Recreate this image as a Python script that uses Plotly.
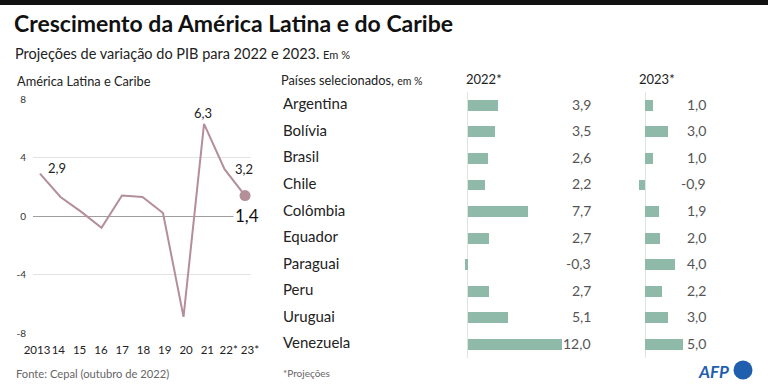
import plotly.graph_objects as go

W, H = 768, 387
TOP = 5            # black band height drawn as page border above the figure
FH = H - TOP       # figure height
FONT = "Lato"

# ---------------- data ----------------
years = [2013, 2014, 2015, 2016, 2017, 2018, 2019, 2020, 2021, 2022, 2023]
year_labels = ["2013", "14", "15", "16", "17", "18", "19", "20", "21", "22*", "23*"]
latam_gdp = [2.9, 1.3, 0.3, -0.8, 1.4, 1.3, 0.2, -6.9, 6.3, 3.2, 1.4]
labelled_years = [2013, 2021, 2022, 2023]

countries = ["Argentina", "Bolívia", "Brasil", "Chile", "Colômbia",
             "Equador", "Paraguai", "Peru", "Uruguai", "Venezuela"]
gdp_2022 = [3.9, 3.5, 2.6, 2.2, 7.7, 2.7, -0.3, 2.7, 5.1, 12.0]
gdp_2023 = [1.0, 3.0, 1.0, -0.9, 1.9, 2.0, 4.0, 2.2, 3.0, 5.0]

LINE_C = "#b48e98"
BAR_C = "#8fb9a8"
AFP_C = "#1f5fad"


def px(x):
    return x / W


def py(y):
    # y given in page pixels (0 = top of window)
    return 1 - (y - TOP) / FH


def fmt(v):
    return f"{v:.1f}".replace(".", ",")


def text(t, x, y, size, color="#222", xanchor="left", **kw):
    return dict(text=t, x=px(x), y=py(y), xref="paper", yref="paper", xanchor=xanchor,
                yanchor="middle", showarrow=False, font=dict(family=FONT, size=size, color=color), **kw)


fig = go.Figure()

# ---------------- left line chart ----------------
fig.add_trace(go.Scatter(
    x=years, y=latam_gdp, mode="lines", line=dict(color=LINE_C, width=2),
    xaxis="x", yaxis="y", hoverinfo="skip", showlegend=False))
fig.add_trace(go.Scatter(
    x=[years[-1]], y=[latam_gdp[-1]], mode="markers",
    marker=dict(color=LINE_C, size=11), xaxis="x", yaxis="y",
    hoverinfo="skip", showlegend=False))
# invisible trace carrying the year-label axis
fig.add_trace(go.Scatter(
    x=years, y=latam_gdp, mode="lines", line=dict(color="rgba(0,0,0,0)", width=0),
    xaxis="x4", yaxis="y", hoverinfo="skip", showlegend=False))

# ---------------- bar charts ----------------
fig.add_trace(go.Bar(
    y=countries, x=gdp_2022, orientation="h", marker=dict(color=BAR_C, line=dict(width=0)),
    width=0.41, xaxis="x2", yaxis="y2", hoverinfo="skip", showlegend=False))
fig.add_trace(go.Bar(
    y=countries, x=gdp_2023, orientation="h", marker=dict(color=BAR_C, line=dict(width=0)),
    width=0.41, xaxis="x3", yaxis="y2", hoverinfo="skip", showlegend=False))

ann = []

# header texts
ann.append(text("<b>Crescimento da América Latina e do Caribe</b>", 12, 23, 23, "#111"))
ann.append(text("Projeções de variação do PIB para 2022 e 2023. <span style='font-size:11px'>Em %</span>",
                13, 53, 14.5))
ann.append(text("América Latina e Caribe", 15, 81, 12.8))
ann.append(text("Países selecionados, <span style='font-size:10.5px'>em %</span>", 279, 80, 12.8))
ann.append(text("2022*", 484, 79, 13, xanchor="center"))
ann.append(text("2023*", 657, 79, 13, xanchor="center"))

# line chart value labels
label_style = {
    2013: dict(xanchor="left", xshift=6, yshift=6, size=13),
    2021: dict(xanchor="center", xshift=-1, yshift=11, size=13),
    2022: dict(xanchor="center", xshift=19, yshift=0, size=13),
    2023: dict(xanchor="center", xshift=2, yshift=-20, size=17),
}
for yr in labelled_years:
    v = latam_gdp[years.index(yr)]
    s = label_style[yr]
    extra = dict(bgcolor="white", borderpad=1) if yr == 2023 else {}
    ann.append(dict(text=fmt(v), x=yr, y=v, xref="x", yref="y", xanchor=s["xanchor"], yanchor="middle",
                    xshift=s["xshift"], yshift=s["yshift"], showarrow=False,
                    font=dict(family=FONT, size=s["size"], color="#222" if yr != 2023 else "#111"), **extra))

# country names and values
for c, v22, v23 in zip(countries, gdp_2022, gdp_2023):
    ann.append(dict(text=c, x=px(281), y=c, xref="paper", yref="y2", xanchor="left", yanchor="middle",
                    yshift=2, showarrow=False, font=dict(family=FONT, size=15, color="#222")))
    ann.append(dict(text=fmt(v22), x=px(593), y=c, xref="paper", yref="y2", xanchor="right",
                    yanchor="middle", yshift=1, showarrow=False,
                    font=dict(family=FONT, size=14, color="#555")))
    ann.append(dict(text=fmt(v23), x=px(708), y=c, xref="paper", yref="y2", xanchor="right",
                    yanchor="middle", yshift=1, showarrow=False,
                    font=dict(family=FONT, size=14, color="#555")))

# footers
ann.append(text("Fonte: Cepal (outubro de 2022)", 14, 373, 11.2, "#666"))
ann.append(text("*Projeções", 281, 373, 10, "#666"))
ann.append(text("<b><i>AFP</i></b>", 731, 371, 17, AFP_C, xanchor="right"))

shapes = [
    dict(type="circle", xref="paper", yref="paper", x0=px(733.5), x1=px(752.5), y0=py(379.5), y1=py(360.5),
         fillcolor=AFP_C, line=dict(width=0)),
]

fig.update_layout(
    width=W, height=FH, margin=dict(l=0, r=0, t=0, b=0, autoexpand=False),
    paper_bgcolor="white", plot_bgcolor="white",
    font=dict(family=FONT, color="#222"),
    annotations=ann, shapes=shapes, bargap=0, showlegend=False,
    xaxis=dict(domain=[px(33), px(251)], range=[2012.66, 2023.29], anchor="y", automargin=False,
               showticklabels=False, ticks="", showgrid=False, zeroline=False, showline=False),
    xaxis4=dict(overlaying="x", domain=[px(33), px(251)], range=[2012.81, 2023.05], anchor="y",
                automargin=False, side="bottom",
                tickmode="array", tickvals=years, ticktext=year_labels, tickangle=0,
                ticks="outside", ticklen=6, tickcolor="rgba(0,0,0,0)",
                tickfont=dict(family=FONT, size=11.5, color="#222"),
                showgrid=False, zeroline=False, showline=False),
    yaxis=dict(domain=[py(333), py(99)], range=[-8, 8], anchor="x", automargin=False,
               tickmode="array", tickvals=[-8, -4, 0, 4, 8], ticktext=["-8", "-4", "0", "4", "8"],
               ticks="outside", ticklen=4, tickcolor="rgba(0,0,0,0)",
               tickfont=dict(family=FONT, size=10, color="#333"),
               showgrid=True, gridcolor="#e3e3e3", gridwidth=1,
               zeroline=True, zerolinecolor="#9e9e9e", zerolinewidth=1, showline=False),
    xaxis2=dict(domain=[px(455), px(575)], range=[(455 - 467.7) / 7.85, (575 - 467.7) / 7.85],
                anchor="y2", automargin=False, showticklabels=False, ticks="", showgrid=False,
                showline=False, zeroline=True, zerolinecolor="#dce6e1", zerolinewidth=1.2),
    xaxis3=dict(domain=[px(625), px(700)], range=[(625 - 645.3) / 7.45, (700 - 645.3) / 7.45],
                anchor="y2", automargin=False, showticklabels=False, ticks="", showgrid=False,
                showline=False, zeroline=True, zerolinecolor="#dce6e1", zerolinewidth=1.2),
    yaxis2=dict(domain=[py(357.6), py(92)], type="category", categoryorder="array",
                categoryarray=countries, range=[9.5, -0.5], anchor="x2", automargin=False,
                showticklabels=False, ticks="", showgrid=False, showline=False, zeroline=False),
)

fig.write_html(
    "out.html", config={"displayModeBar": False},
    post_script=("document.body.style.margin='0';document.body.style.overflow='hidden';"
                 "document.body.style.borderTop='%dpx solid #111111';" % TOP))
